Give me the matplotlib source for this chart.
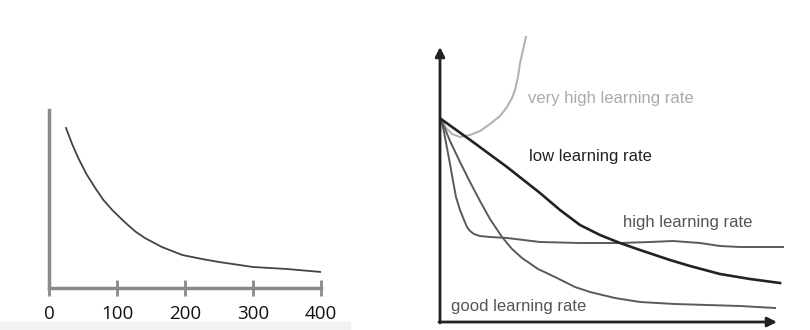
import matplotlib
matplotlib.use("Agg")
import matplotlib.pyplot as plt

# left panel: loss vs epoch
epochs = [25, 34, 43, 55, 68, 80, 93, 105, 116, 128, 141, 166, 196, 225, 250, 300, 350, 400]
loss = [160, 144, 130, 114, 100, 88, 78, 70, 63, 56, 50, 41, 33, 29, 26, 21, 19, 16]
xticks = [0, 100, 200, 300, 400]

# right panel: learning-rate sketch curves
vh_x = [1, 6, 12, 20, 30, 40, 50, 60, 67, 72, 75, 78, 80, 83, 86]
vh_y = [203, 194, 188, 185, 187, 191, 198, 206, 215, 224, 232, 245, 259, 272, 285]
low_x = [1, 33, 67, 100, 120, 140, 160, 180, 200, 230, 250, 280, 310, 340]
low_y = [203, 180, 155, 129, 112, 97, 87, 79, 72, 62, 56, 48, 43, 39]
high_x = [1, 4, 7, 10, 13, 16, 20, 24, 27, 30, 34, 40, 50, 67, 100, 140, 180, 210,
          233, 260, 280, 300, 343]
high_y = [203, 190, 174, 158, 141, 125, 112, 102, 95, 91, 88, 86, 85, 84, 80, 79, 79,
          80, 81, 79, 76, 75, 75]
good_x = [1, 10, 20, 30, 40, 50, 62, 72, 82, 98, 115, 135, 150, 175, 200, 235, 267,
          300, 335]
good_y = [203, 181, 160, 140, 121, 103, 85, 73, 64, 53, 45, 35, 30, 24, 20, 18, 17,
          16, 14]

fig = plt.figure(figsize=(8.1, 3.3), dpi=100)
W, H = 810, 330

# faint band along the bottom of the left screenshot
fig.patches.append(plt.Rectangle((0, 0), 350 / W, 8 / H, transform=fig.transFigure,
                                 color="#f2f2f2", zorder=0))

ax1 = fig.add_axes([49 / W, 42 / H, 272 / W, 178 / H])
ax1.plot(epochs, loss, color="#444444", lw=1.3)
ax1.set_xlim(0, 400)
ax1.set_ylim(0, 178)
for s in ["top", "right"]:
    ax1.spines[s].set_visible(False)
for s in ["left", "bottom"]:
    ax1.spines[s].set_color("#8a8a8a")
    ax1.spines[s].set_linewidth(2.5)
ax1.set_yticks([])
ax1.set_xticks(xticks)
ax1.tick_params(axis="x", direction="inout", length=12, width=2, color="#8a8a8a",
                pad=6, labelsize=13.5, labelcolor="#111111")
for lab in ax1.get_xticklabels():
    lab.set_family("Open Sans")

ax2 = fig.add_axes([440 / W, 8 / H, 340 / W, 290 / H])
ax2.set_xlim(0, 340)
ax2.set_ylim(0, 290)
ax2.axis("off")
ax2.plot(vh_x, vh_y, color="#b3b3b3", lw=1.5, clip_on=False)
ax2.plot(high_x, high_y, color="#5a5a5a", lw=1.4, clip_on=False)
ax2.plot(good_x, good_y, color="#5a5a5a", lw=1.4, clip_on=False)
ax2.plot(low_x, low_y, color="#222222", lw=1.9, clip_on=False)

arrow = dict(arrowstyle="-|>", lw=2, color="#222222", mutation_scale=14, shrinkA=0, shrinkB=0)
ax2.annotate("", xy=(0, 275), xytext=(0, -1), arrowprops=arrow)
ax2.annotate("", xy=(337, 0), xytext=(-1, 0), arrowprops=arrow)

font = dict(family="Liberation Sans", fontsize=12, va="center", ha="left")
ax2.text(88, 224, "very high learning rate", color="#aaaaaa", **font)
ax2.text(89, 166, "low learning rate", color="#222222", **font)
ax2.text(183, 99, "high learning rate", color="#555555", **font)
ax2.text(11, 16, "good learning rate", color="#555555", **font)

fig.savefig("out.png", dpi=100)
